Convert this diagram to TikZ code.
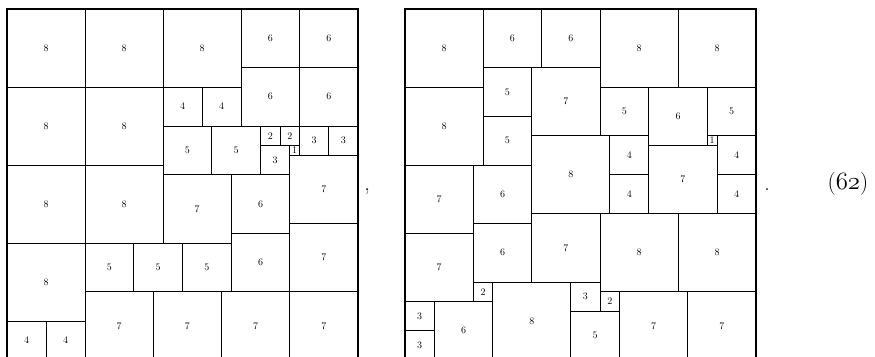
\documentclass[tikz,border=0pt]{standalone}
\tikzset{
  tile/.style={draw, line width=0.8pt, inner sep=0pt, outer sep=0pt, anchor=north west,
    minimum size=#1*9.75pt, font=\fontsize{10}{11}\selectfont},
  frame/.style={draw, line width=1.3pt},
  punct/.style={anchor=base, inner sep=0pt, font=\fontsize{22}{24}\selectfont},
  eqno/.style={anchor=base, inner sep=0pt, font=\fontsize{23}{26}\selectfont}
}
\begin{document}
\begin{tikzpicture}[x=1pt,y=-1pt]
\useasboundingbox (0,0) rectangle (875,356);
\clip (0,0) rectangle (875,356);
% left tiling
\foreach \x/\y/\s [count=\n] in {0/0/8, 8/0/8, 16/0/8, 24/0/6, 30/0/6, 24/6/6, 30/6/6,
  0/8/8, 8/8/8, 16/8/4, 20/8/4, 16/12/5, 21/12/5, 26/12/2, 28/12/2, 30/12/3, 33/12/3,
  26/14/3, 29/14/1, 29/15/7, 0/16/8, 8/16/8, 16/17/7, 23/17/6, 23/23/6, 29/22/7,
  8/24/5, 13/24/5, 18/24/5, 0/24/8, 0/32/4, 4/32/4, 8/29/7, 15/29/7, 22/29/7, 29/29/7}
  \node[tile=\s] (L\n) at ({7+\x*9.75},{9+\y*9.75}) {\s};
\draw[frame] (L1.north west) rectangle (L36.south east);
% right tiling
\foreach \x/\y/\s [count=\n] in {0/0/8, 0/8/8, 8/0/6, 14/0/6, 8/6/5, 8/11/5, 13/6/7,
  20/0/8, 28/0/8, 20/8/5, 25/8/6, 31/8/5, 31/13/1, 32/13/4, 32/17/4, 25/14/7, 13/13/8,
  21/13/4, 21/17/4, 0/16/7, 0/23/7, 7/16/6, 7/22/6, 13/21/7, 20/21/8, 28/21/8,
  7/28/2, 9/28/8, 17/28/3, 20/29/2, 17/31/5, 0/30/3, 0/33/3, 3/30/6, 22/29/7, 29/29/7}
  \node[tile=\s] (R\n) at ({405+\x*9.75},{9+\y*9.75}) {\s};
\draw[frame] (R1.north west) rectangle (R36.south east);
% punctuation and equation number
\node[punct] (comma) at (367,190) {,};
\node[punct] (dot) at (767,190) {.};
\node[eqno] (num) at (848,189) {($\mathnormal{62}$)};
\end{tikzpicture}
\end{document}
